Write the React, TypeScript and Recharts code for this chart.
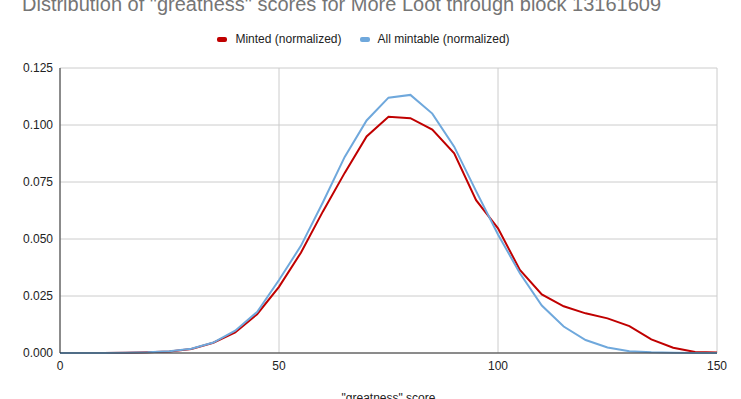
import React from 'react';
import { LineChart, Line, XAxis, YAxis, CartesianGrid } from 'recharts';

const scores = [0, 5, 10, 15, 20, 25, 30, 35, 40, 45, 50, 55, 60, 65, 70, 75, 80, 85, 90, 95, 100, 105, 110, 115, 120, 125, 130, 135, 140, 145, 150];

const minted = [
  0, 0, 0, 0.0001, 0.0003, 0.0007, 0.0018, 0.0045, 0.009, 0.017, 0.029, 0.044, 0.062, 0.079, 0.095, 0.1036,
  0.103, 0.098, 0.0876, 0.067, 0.0547, 0.0364, 0.0257, 0.0205, 0.0174, 0.0152, 0.0118, 0.006, 0.0023, 0.0004, 0.0002,
];

const mintable = [
  0, 0, 0, 0.0001, 0.0003, 0.0008, 0.0019, 0.0046, 0.0098, 0.018, 0.032, 0.047, 0.066, 0.086, 0.102, 0.112,
  0.1132, 0.105, 0.0905, 0.071, 0.052, 0.035, 0.0208, 0.0116, 0.0057, 0.0024, 0.0008, 0.0003, 0.0001, 0, 0,
];

const xTicks = [0, 50, 100, 150];
const yTicks = [0, 0.025, 0.05, 0.075, 0.1, 0.125];

const series = [
  { key: 'minted', name: 'Minted (normalized)', color: '#c00000' },
  { key: 'mintable', name: 'All mintable (normalized)', color: '#6fa8dc' },
];

const data = scores.map((s, i) => ({ score: s, minted: minted[i], mintable: mintable[i] }));

const font = '"Liberation Sans", Arial, sans-serif';

const App: React.FC = () => {
  return (
    <div style={{ position: 'absolute', left: 0, top: 0, width: 741, height: 399, background: '#fff', overflow: 'hidden', fontFamily: font }}>
      <div style={{ position: 'absolute', left: 22, top: -7, fontSize: 20, color: '#757575', whiteSpace: 'nowrap' }}>
        Distribution of "greatness" scores for More Loot through block 13161609
      </div>
      <div style={{ position: 'absolute', left: 2, width: 741, top: 32, display: 'flex', justifyContent: 'center', fontSize: 12, color: '#222' }}>
        {series.map((s) => (
          <div key={s.key} style={{ display: 'flex', alignItems: 'center', marginRight: 18 }}>
            <span style={{ display: 'inline-block', width: 10, height: 5, borderRadius: 2, background: s.color, marginRight: 8 }} />
            {s.name}
          </div>
        ))}
      </div>
      <LineChart width={741} height={399} data={data} margin={{ top: 68, right: 24, left: 0, bottom: 16 }} style={{ position: 'absolute', left: 0, top: 0 }}>
        <CartesianGrid stroke="#cccccc" strokeWidth={1} />
        <XAxis
          dataKey="score"
          type="number"
          domain={[0, 150]}
          ticks={xTicks}
          tickSize={0}
          tickMargin={8}
          height={30}
          stroke="#333"
          tick={{ fill: '#222', fontSize: 12, fontFamily: font }}
          label={{ value: '"greatness" score', position: 'insideBottom', offset: -19, fill: '#222', fontSize: 12, fontFamily: font }}
        />
        <YAxis
          type="number"
          domain={[0, 0.125]}
          ticks={yTicks}
          width={60}
          tickSize={0}
          tickMargin={7}
          stroke="#333"
          tickFormatter={(v: number) => v.toFixed(3)}
          tick={{ fill: '#222', fontSize: 12, fontFamily: font }}
        />
        {series.map((s) => (
          <Line key={s.key} dataKey={s.key} name={s.name} stroke={s.color} strokeWidth={2} dot={false} type="linear" isAnimationActive={false} />
        ))}
      </LineChart>
    </div>
  );
};

export default App;
